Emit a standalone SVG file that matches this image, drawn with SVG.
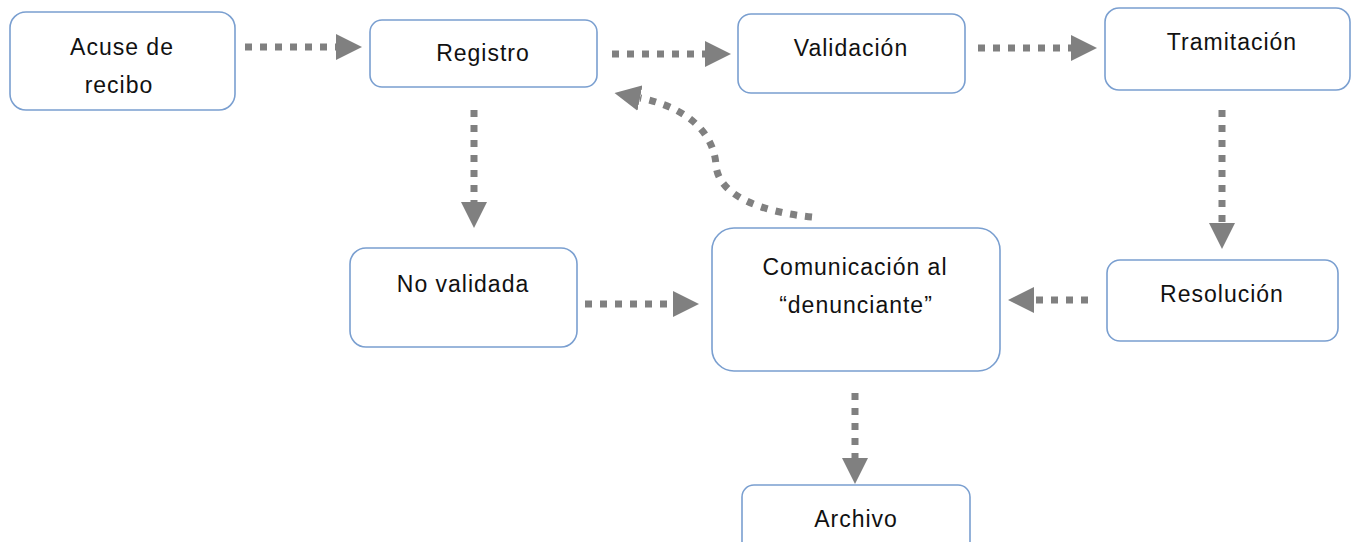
<svg xmlns="http://www.w3.org/2000/svg" width="1361" height="542" viewBox="0 0 1361 542">
<defs>
<style>
.box{fill:#fff;stroke:#7a9fd0;stroke-width:1.6}
.t{font-family:"Liberation Sans",Arial,sans-serif;font-size:23px;fill:#111;text-anchor:middle;letter-spacing:1px}
.c{fill:none;stroke:#808080;stroke-width:7;stroke-dasharray:7 8;marker-end:url(#ah)}
</style>
<marker id="ah" markerUnits="userSpaceOnUse" markerWidth="26" markerHeight="26" refX="0" refY="12" orient="auto" viewBox="0 0 24 24">
<path d="M0,0 L24,12 L0,24 z" fill="#808080"/>
</marker>
</defs>
<rect width="1361" height="542" fill="#fff"/>
<g id="connectors">
<path class="c" d="M245,47 L336,47"/>
<path class="c" d="M612,54 L705,54"/>
<path class="c" d="M978,48 L1071,48"/>
<path class="c" d="M474,110 L474,202"/>
<path class="c" d="M1222,110 L1222,223"/>
<path class="c" d="M1088,300 L1034,300"/>
<path class="c" d="M585,304 L673,304"/>
<path class="c" d="M855,393 L855,458"/>
<path class="c" d="M812,217 C760,212 718,195 716,165 C714,135 690,108 640,98"/>
</g>
<g id="acuse">
<rect class="box" x="10" y="12" width="225" height="98" rx="16"/>
<text class="t" x="122" y="55">Acuse de</text>
<text class="t" x="119" y="93">recibo</text>
</g>
<g id="registro">
<rect class="box" x="370" y="20" width="227" height="67" rx="12"/>
<text class="t" x="483" y="61">Registro</text>
</g>
<g id="validacion">
<rect class="box" x="738" y="14" width="227" height="79" rx="13"/>
<text class="t" x="851" y="56">Validación</text>
</g>
<g id="tramitacion">
<rect class="box" x="1105" y="8" width="245" height="82" rx="14"/>
<text class="t" x="1232" y="50">Tramitación</text>
</g>
<g id="novalidada">
<rect class="box" x="350" y="248" width="227" height="99" rx="16"/>
<text class="t" x="463" y="292">No validada</text>
</g>
<g id="comunicacion">
<rect class="box" x="712" y="228" width="288" height="143" rx="22"/>
<text class="t" x="855" y="275">Comunicación al</text>
<text class="t" x="856" y="313">“denunciante”</text>
</g>
<g id="resolucion">
<rect class="box" x="1107" y="260" width="231" height="81" rx="13"/>
<text class="t" x="1222" y="302">Resolución</text>
</g>
<g id="archivo">
<rect class="box" x="742" y="485" width="228" height="70" rx="12"/>
<text class="t" x="856" y="527">Archivo</text>
</g>
</svg>
